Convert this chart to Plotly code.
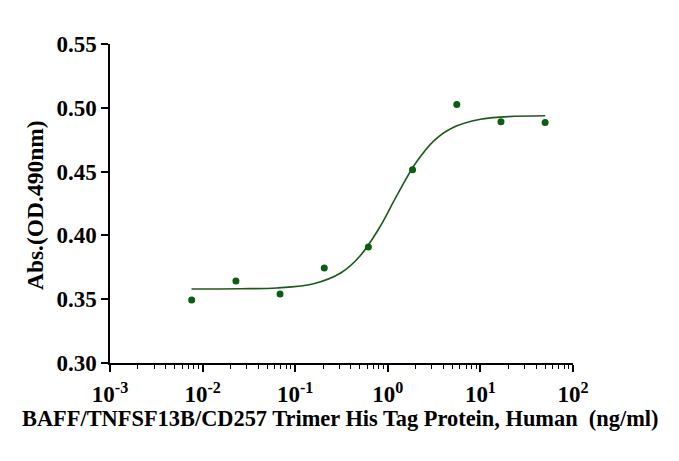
import plotly.graph_objects as go

# measured points (ng/ml, OD490)
conc = [0.00762, 0.0229, 0.0686, 0.206, 0.617, 1.85, 5.56, 16.67, 50.0]
od = [0.3494, 0.3643, 0.3540, 0.3745, 0.3910, 0.4515, 0.5025, 0.4890, 0.4885]

# fitted curve
fit_x = [0.00759, 0.0251, 0.0631, 0.158, 0.316, 0.501, 0.794, 1.259,
         1.995, 3.162, 5.012, 10.0, 19.95, 50.1]
fit_y = [0.3580, 0.3582, 0.3588, 0.3621, 0.3709, 0.3838, 0.4048, 0.4315,
         0.4565, 0.4743, 0.4844, 0.4910, 0.4931, 0.4938]

x_tickvals = [0.001, 0.01, 0.1, 1, 10, 100]
x_ticktext = ["10<sup>-3</sup>", "10<sup>-2</sup>", "10<sup>-1</sup>",
              "10<sup>0</sup>", "10<sup>1</sup>", "10<sup>2</sup>"]
y_tickvals = [0.30, 0.35, 0.40, 0.45, 0.50, 0.55]

x_title = "BAFF/TNFSF13B/CD257 Trimer His Tag Protein, Human  (ng/ml)"
y_title = "Abs.(OD.490nm)"

green = "#0b5e12"
font_main = "Liberation Serif"

fig = go.Figure()
fig.add_trace(go.Scatter(
    x=fit_x, y=fit_y, mode="lines", line_shape="spline",
    line=dict(color="#1c5a1c", width=1.6), hoverinfo="skip",
))
fig.add_trace(go.Scatter(
    x=conc, y=od, mode="markers",
    marker=dict(color=green, size=7),
))

# the page body adds an 8px offset, so the figure is a bit smaller
fig.update_layout(
    width=671, height=453,
    margin=dict(l=102, r=106, t=36, b=98),
    paper_bgcolor="white", plot_bgcolor="white",
    showlegend=False,
    font=dict(family=font_main, color="black", size=22),
)
fig.update_xaxes(
    type="log", range=[-3, 2], automargin=False,
    tickvals=x_tickvals, ticktext=x_ticktext,
    ticks="outside", ticklen=7, tickwidth=1.5, tickcolor="black",
    ticklabelstandoff=3,
    showline=True, linecolor="black", linewidth=1.5,
    showgrid=False, zeroline=False,
    minor=dict(ticks="outside", ticklen=4, tickwidth=1.2, tickcolor="black",
               dtick="D1", showgrid=False),
    tickfont=dict(family=font_main, size=23, color="black", weight="bold"),
)
fig.update_yaxes(
    range=[0.30, 0.55], tickvals=y_tickvals, tickformat=".2f", automargin=False,
    ticks="outside", ticklen=7, tickwidth=1.5, tickcolor="black",
    showline=True, linecolor="black", linewidth=1.5,
    showgrid=False, zeroline=False,
    tickfont=dict(family=font_main, size=23, color="black", weight="bold"),
)

# axis titles placed as annotations for exact positioning
fig.add_annotation(
    text="<b>" + x_title + "</b>", xref="paper", yref="paper",
    x=0.497, y=-0.175, xanchor="center", yanchor="middle",
    showarrow=False, font=dict(family=font_main, size=22.4, color="black"),
)
fig.add_annotation(
    text="<b>" + y_title + "</b>", xref="paper", yref="paper",
    x=-0.162, y=0.495, xanchor="center", yanchor="middle", textangle=-90,
    showarrow=False, font=dict(family=font_main, size=23.5, color="black"),
)

fig.write_html("out.html")
